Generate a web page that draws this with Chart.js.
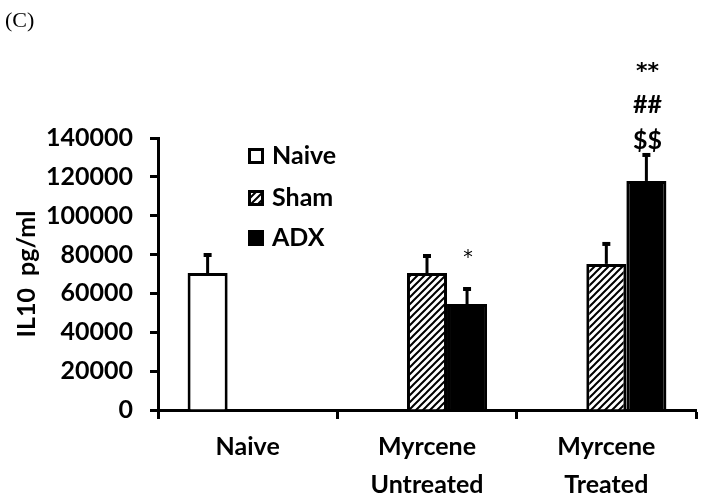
<!DOCTYPE html>
<html><head><meta charset="utf-8">
<script src="https://cdn.jsdelivr.net/npm/chart.js@4.4.1/dist/chart.umd.min.js"></script>
<style>html,body{margin:0;padding:0;background:#fff}#wrap{width:706px;height:502px}</style>
</head><body><div id="wrap"><canvas id="c" width="706" height="502"></canvas></div>
<script>
// ---- data ----
const categories = ['Naive', ['Myrcene', 'Untreated'], ['Myrcene', 'Treated']];
const seriesNames = ['Naive', 'Sham', 'ADX'];
const naiveValues = [70500, null, null];
const shamValues = [null, 70500, 75200];
const adxValues = [null, 54500, 117900];
const naiveErrors = [10300, null, null];
const shamErrors = [null, 9800, 11300];
const adxErrors = [null, 8800, 14400];
const adxMarks = [null, ['*'], ['$$', '##', '**']];
const yMin = 0, yMax = 140000, yStep = 20000;
const yTitle = 'IL10  pg/ml';
const panelLabel = '(C)';

const FONT = 'Lato, "Open Sans", sans-serif';
const canvas = document.getElementById('c');
const mainCtx = canvas.getContext('2d');

function hatch() {
  const s = 7;
  const c = document.createElement('canvas'); c.width = s; c.height = s;
  const g = c.getContext('2d');
  g.fillStyle = '#fff'; g.fillRect(0, 0, s, s);
  g.strokeStyle = '#000'; g.lineWidth = 2;
  g.beginPath();
  g.moveTo(-1, s + 1); g.lineTo(s + 1, -1);
  g.moveTo(-1, 1); g.lineTo(1, -1);
  g.moveTo(s - 1, s + 1); g.lineTo(s + 1, s - 1);
  g.stroke();
  return mainCtx.createPattern(c, 'repeat');
}
const hatchPattern = hatch();
const fills = ['#ffffff', hatchPattern, '#000000'];
const errorSets = [naiveErrors, shamErrors, adxErrors];

const errorBars = {
  id: 'errorBars',
  afterDatasetsDraw(chart) {
    const ctx = chart.ctx, ys = chart.scales.y;
    ctx.save();
    ctx.strokeStyle = '#000';
    errorSets.forEach((errs, di) => {
      const meta = chart.getDatasetMeta(di);
      const vals = chart.data.datasets[di].data;
      meta.data.forEach((bar, i) => {
        const v = vals[i], e = errs[i];
        if (v == null || e == null) return;
        const x = bar.x, y0 = ys.getPixelForValue(v), y1 = ys.getPixelForValue(v + e);
        ctx.lineWidth = 3;
        ctx.beginPath(); ctx.moveTo(x, y0); ctx.lineTo(x, y1 + 2); ctx.stroke();
        ctx.lineWidth = 4;
        ctx.beginPath(); ctx.moveTo(x - 4, y1 + 2); ctx.lineTo(x + 4, y1 + 2); ctx.stroke();
      });
    });
    // significance marks above ADX bars
    const meta = chart.getDatasetMeta(2);
    ctx.fillStyle = '#000';
    ctx.textAlign = 'center';
    ctx.textBaseline = 'alphabetic';
    adxMarks.forEach((marks, i) => {
      if (!marks) return;
      const bar = meta.data[i];
      const top = ys.getPixelForValue(adxValues[i] + adxErrors[i]);
      if (marks.length === 1) {
        ctx.font = '400 19px "DejaVu Sans", sans-serif';
        ctx.fillText(marks[0], bar.x + 1, top - 24);
      } else {
        marks.forEach((m, k) => {
          if (m === '**') {
            ctx.font = '700 22px "DejaVu Sans", sans-serif';
            ctx.fillText(m, bar.x + 1, top - 4 - k * 36 + 1);
          } else {
            ctx.font = '700 25px ' + FONT;
            ctx.fillText(m, bar.x + 1, top - 4 - k * 36);
          }
        });
      }
    });
    // panel label
    ctx.textAlign = 'left';
    ctx.textBaseline = 'middle';
    ctx.font = '400 22px "Liberation Serif", serif';
    ctx.fillText(panelLabel, 5, 21);
    ctx.restore();
  }
};

const boxLegend = {
  id: 'boxLegend',
  afterDraw(chart) {
    const ctx = chart.ctx;
    ctx.save();
    const x0 = 248, ys = [156, 198, 238], box = 16;
    chart.data.datasets.forEach((ds, i) => {
      const y = ys[i];
      ctx.fillStyle = ds.backgroundColor;
      ctx.fillRect(x0, y - box / 2, box, box);
      ctx.strokeStyle = '#000'; ctx.lineWidth = 3;
      ctx.strokeRect(x0 + 1.5, y - box / 2 + 1.5, box - 3, box - 3);
      ctx.fillStyle = '#000';
      ctx.font = '700 25px ' + FONT;
      ctx.textAlign = 'left'; ctx.textBaseline = 'middle';
      ctx.fillText(ds.label, 272, y);
    });
    ctx.restore();
  }
};

new Chart(canvas, {
  type: 'bar',
  data: {
    labels: categories,
    datasets: [
      { label: seriesNames[0], data: naiveValues, backgroundColor: fills[0] },
      { label: seriesNames[1], data: shamValues, backgroundColor: fills[1] },
      { label: seriesNames[2], data: adxValues, backgroundColor: fills[2] }
    ]
  },
  options: {
    responsive: false,
    devicePixelRatio: 1,
    animation: false,
    layout: { padding: { top: 138, right: 10, left: 0, bottom: 0 } },
    datasets: {
      bar: { categoryPercentage: 0.67, barPercentage: 1.0, borderColor: '#000', borderWidth: 3 }
    },
    plugins: { legend: { display: false }, tooltip: { enabled: false }, title: { display: false } },
    scales: {
      x: {
        afterFit(s) { s.height = 92; },
        border: { display: true, color: '#000', width: 3 },
        grid: { display: true, drawOnChartArea: false, color: '#000', tickColor: '#000', tickWidth: 3, tickLength: 9, offset: true },
        ticks: { color: '#000', font: { family: FONT, size: 25, weight: '700', lineHeight: 1.52 }, padding: 9, maxRotation: 0, autoSkip: false }
      },
      y: {
        min: yMin, max: yMax,
        afterFit(s) { s.width = 158; },
        border: { display: true, color: '#000', width: 3 },
        grid: { display: true, drawOnChartArea: false, color: '#000', tickColor: '#000', tickWidth: 3, tickLength: 8 },
        ticks: { stepSize: yStep, color: '#000', padding: 17, font: { family: FONT, size: 25, weight: '700' }, callback: v => String(v) },
        title: { display: true, text: yTitle, color: '#000', font: { family: FONT, size: 25, weight: '700', lineHeight: 1.2 }, padding: { top: 12, bottom: 0 } }
      }
    }
  },
  plugins: [errorBars, boxLegend]
});
</script></body></html>
